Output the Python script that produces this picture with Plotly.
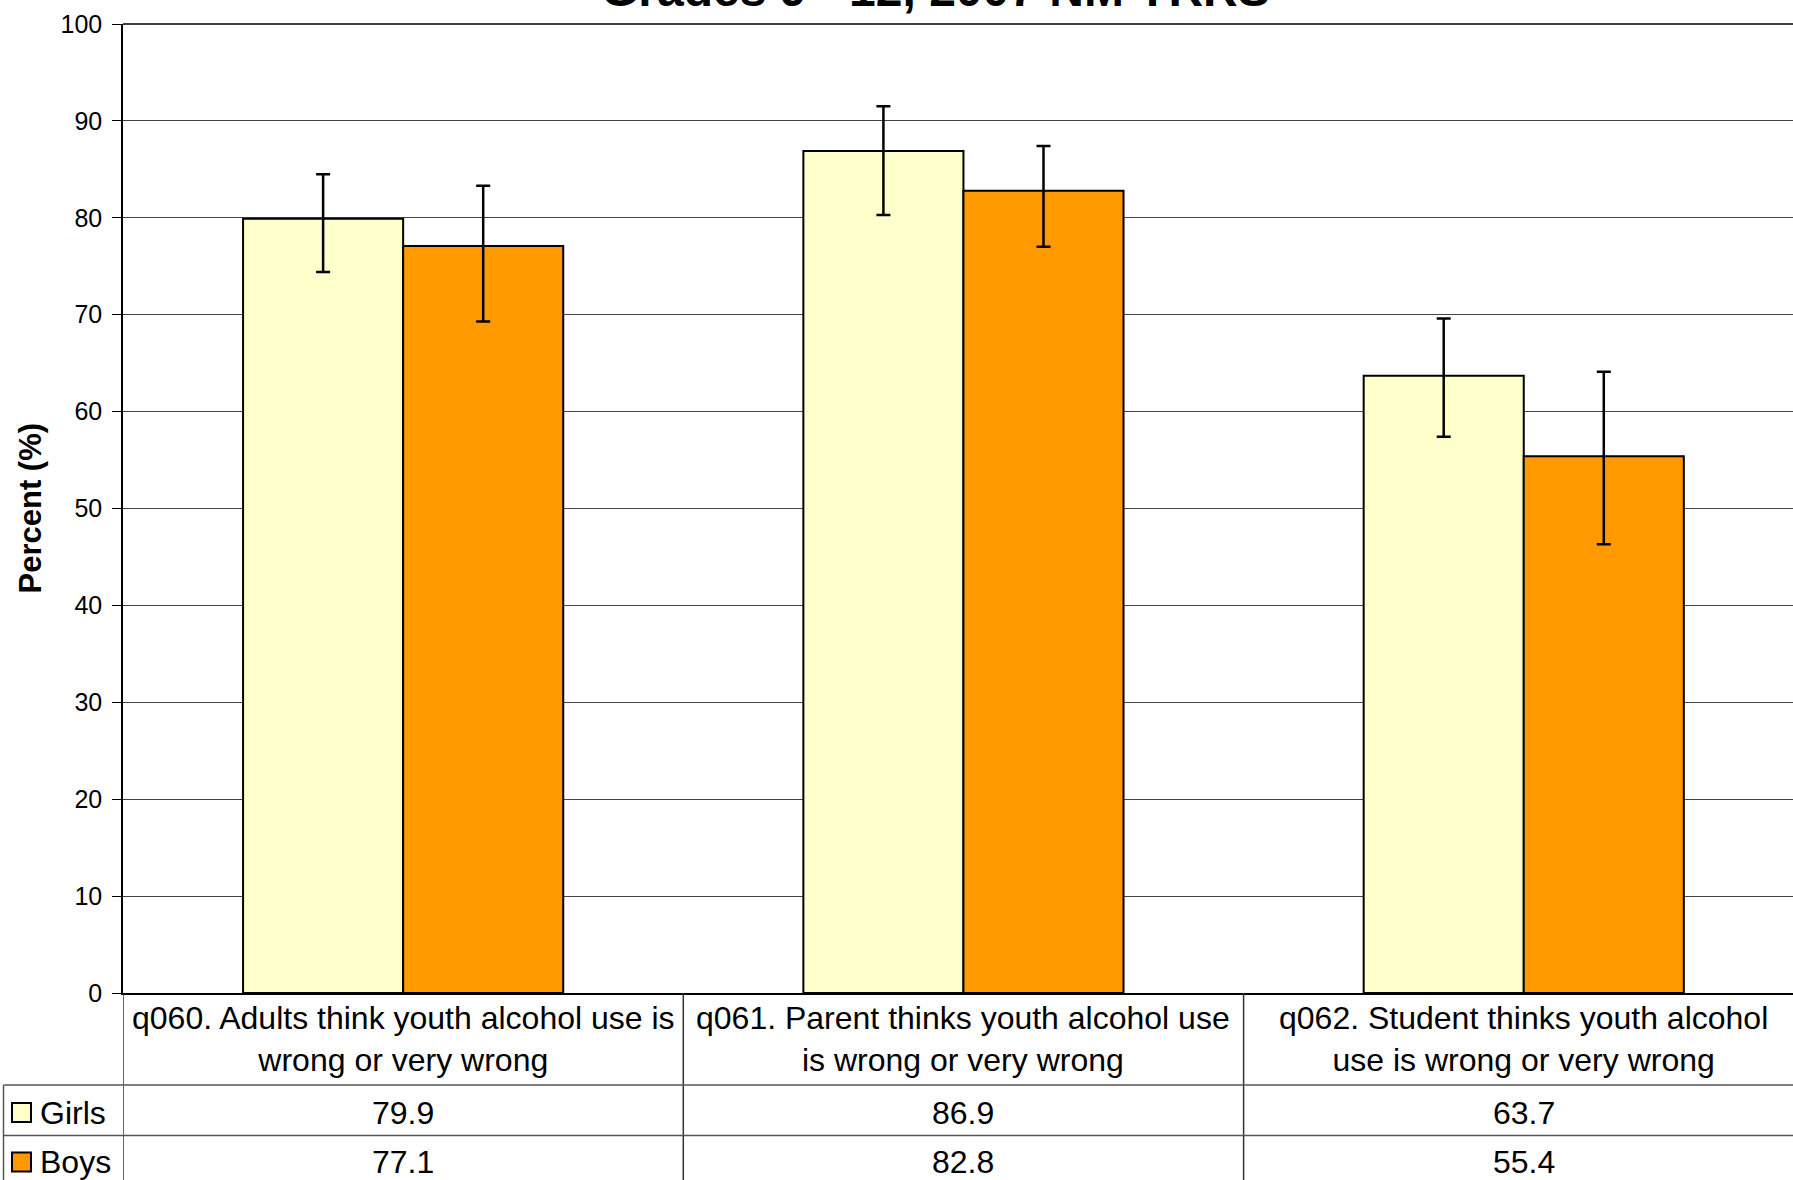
import plotly.graph_objects as go

# ---- data ----
categories = [
    "q060. Adults think youth alcohol use is<br>wrong or very wrong",
    "q061. Parent thinks youth alcohol use<br>is wrong or very wrong",
    "q062. Student thinks youth alcohol<br>use is wrong or very wrong",
]
series_names = ["Girls", "Boys"]
girls = [79.9, 86.9, 63.7]
boys = [77.1, 82.8, 55.4]
girls_lo = [74.4, 80.3, 57.4]
girls_hi = [84.5, 91.5, 69.6]
boys_lo = [69.3, 77.0, 46.3]
boys_hi = [83.3, 87.4, 64.1]
y_ticks = [0, 10, 20, 30, 40, 50, 60, 70, 80, 90, 100]
title_text = "Grades 9 - 12, 2007 NM YRRS"
y_title = "Percent (%)"

colors = ["#FFFFCC", "#FF9900"]
FONT = "Arial, Liberation Sans, sans-serif"

W, H = 1793, 1180
L, T, B = 123, 24, 187
plot_h = H - T - B
plot_w = W - L
cat_w = 560.3


def py(p):  # pixel y (from top) -> paper y
    return (H - B - p) / plot_h


def px(p):  # pixel x -> paper x
    return (p - L) / plot_w


xs = list(range(len(categories)))
fig = go.Figure()
for name, vals, lo, hi, col in [
    ("Girls", girls, girls_lo, girls_hi, colors[0]),
    ("Boys", boys, boys_lo, boys_hi, colors[1]),
]:
    fig.add_trace(go.Bar(
        x=xs, y=vals, name=name,
        marker=dict(color=col, line=dict(color="black", width=2)),
        error_y=dict(type="data", symmetric=False,
                     array=[h - v for h, v in zip(hi, vals)],
                     arrayminus=[v - l for l, v in zip(lo, vals)],
                     color="black", thickness=2.5, width=7),
        showlegend=False,
    ))

x_right = -0.5 + plot_w / cat_w

fig.update_layout(
    width=W, height=H,
    margin=dict(l=L, r=0, t=T, b=B, pad=0),
    paper_bgcolor="white", plot_bgcolor="white",
    barmode="group", bargap=0.4286, bargroupgap=0,
    font=dict(family=FONT, color="black"),
    xaxis=dict(range=[-0.5, x_right], showticklabels=False, showgrid=False,
               zeroline=False, showline=True, linecolor="black", linewidth=1.5,
               ticks=""),
    yaxis=dict(range=[0, 100], tickvals=y_ticks, ticks="outside", ticklen=9,
               tickcolor="black", tickwidth=1, showline=True, linecolor="black",
               linewidth=1.5, showgrid=True, gridcolor="#444444", gridwidth=1,
               zeroline=False, tickfont=dict(size=25, family=FONT, color="black"),
               ticklabelstandoff=5),
)

shapes = []
ann = []
# top border line at 100
shapes.append(dict(type="line", xref="paper", yref="paper", x0=0, x1=1, y0=1, y1=1,
                   line=dict(color="black", width=1.5)))
# table verticals at category boundaries
for k in range(len(categories)):
    shapes.append(dict(type="line", xref="x", yref="paper", x0=k - 0.5, x1=k - 0.5,
                       y0=0, y1=py(H + 5), line=dict(color="#333333", width=1.5)))
# table horizontals
row_lines = [1085, 1135.5]
for r in row_lines:
    shapes.append(dict(type="line", xref="paper", yref="paper", x0=px(3.5), x1=1,
                       y0=py(r), y1=py(r), line=dict(color="#555555", width=1.5)))
shapes.append(dict(type="line", xref="paper", yref="paper", x0=px(3.5), x1=px(3.5),
                   y0=py(1085), y1=py(H + 5), line=dict(color="#555555", width=1.5)))

# category labels in table header
for k, c in enumerate(categories):
    ann.append(dict(x=k, y=py(1039), xref="x", yref="paper", text=c, showarrow=False,
                    xanchor="center", yanchor="middle",
                    font=dict(size=32, family=FONT, color="black")))

# data rows
row_centers = [1112.5, 1162]
for ri, (name, vals, col) in enumerate(zip(series_names, [girls, boys], colors)):
    yc = row_centers[ri]
    for k, v in enumerate(vals):
        ann.append(dict(x=k, y=py(yc), xref="x", yref="paper", text=f"{v:.1f}",
                        showarrow=False, xanchor="center", yanchor="middle",
                        font=dict(size=32, family=FONT, color="black")))
    ann.append(dict(x=px(38), y=py(yc), xref="paper", yref="paper", text=name,
                    showarrow=False, xanchor="left", yanchor="middle",
                    font=dict(size=32, family=FONT, color="black")))
    shapes.append(dict(type="rect", xref="paper", yref="paper",
                       x0=px(12), x1=px(31), y0=py(yc - 9.5), y1=py(yc + 9.5),
                       fillcolor=col, line=dict(color="black", width=2)))

# y-axis title
ann.append(dict(x=px(30), y=0.5, xref="paper", yref="paper", text=f"<b>{y_title}</b>",
                textangle=-90, showarrow=False, xanchor="center", yanchor="middle",
                font=dict(size=31, family=FONT, color="black")))
# chart title (mostly clipped at top, as in the reference)
ann.append(dict(x=px(935), y=py(-10), xref="paper", yref="paper", text=f"<b>{title_text}</b>",
                showarrow=False, xanchor="center", yanchor="middle",
                font=dict(size=48, family=FONT, color="black")))

fig.update_layout(shapes=shapes, annotations=ann)

fig.write_html("out.html", config={"displayModeBar": False},
               post_script="document.body.style.margin='0';")
